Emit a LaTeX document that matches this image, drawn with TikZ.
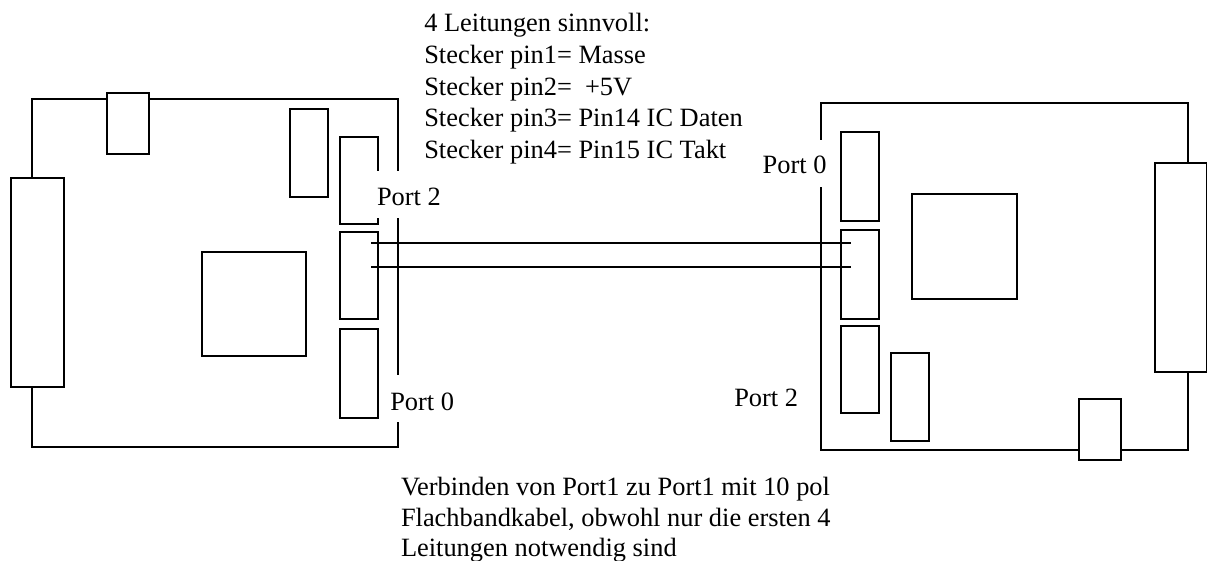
\documentclass[tikz,border=0pt]{standalone}
\usepackage{fontspec}
\setmainfont{Liberation Serif}

\begin{document}
\begin{tikzpicture}[x=1pt,y=-1pt,line width=2pt,
  part/.style={draw=black,fill=white},
  portlabel/.style={fill=white,inner xsep=2pt,inner ysep=0pt,anchor=base west,text height=35pt,text depth=12pt},
  notes/.style={align=left,inner sep=0pt,anchor=north west}]
\tikzstyle{every node}+=[font=\fontsize{26.4}{31.75}\selectfont]
\useasboundingbox (0,0) rectangle (1207,561);
% left board
\draw [black] (32,99) rectangle (398,447);
\draw [part] (107,93) rectangle (149,154);
\draw [part] (11,178) rectangle (64,387);
\draw [part] (290,109) rectangle (328,197);
\draw [part] (340,137) rectangle (378,224);%port 2
\draw [part] (340,232) rectangle (378,319);%port 1
\draw [part] (340,329) rectangle (378,418);%port 0
\draw [part] (202,252) rectangle (306,356);
% right board
\draw [black] (821,103) rectangle (1188,450);
\draw [part] (841,132) rectangle (879,221);%port 0
\draw [part] (841,230) rectangle (879,319);%port 1
\draw [part] (841,326) rectangle (879,413);%port 2
\draw [part] (912,194) rectangle (1017,299);
\draw [part] (891,353) rectangle (929,441);
\draw [part] (1079,399) rectangle (1121,460);
\draw [part] (1155,163) rectangle (1207,372);
% cable
\coordinate (la) at (371,243);
\coordinate (lb) at (371,267);
\coordinate (ra) at (851,243);
\coordinate (rb) at (851,267);
\draw [black] (la) -- (ra);
\draw [black] (lb) -- (rb);
% labels
\node [portlabel] (lport2) at (374,205.7) {Port 2};
\node [portlabel,text height=35pt,text depth=12pt] (lport0) at (387.3,410) {Port 0};
\node [portlabel,text height=34pt,text depth=13pt] (rport0) at (759.7,174) {Port 0};
\node [portlabel] (rport2) at (731.3,406) {Port 2};
\node [notes] (pins) at (423.3,12.2) {4 Leitungen sinnvoll:\\Stecker pin1= Masse\\Stecker pin2=\ \ +5V\\Stecker pin3= Pin14 IC Daten\\Stecker pin4= Pin15 IC Takt};
\node [notes,font=\fontsize{26.4}{30.5}\selectfont] (cable) at (400,476.2) {Verbinden von Port1 zu Port1 mit 10 pol\\Flachbandkabel, obwohl nur die ersten 4\\Leitungen notwendig sind};
\end{tikzpicture}
\end{document}
